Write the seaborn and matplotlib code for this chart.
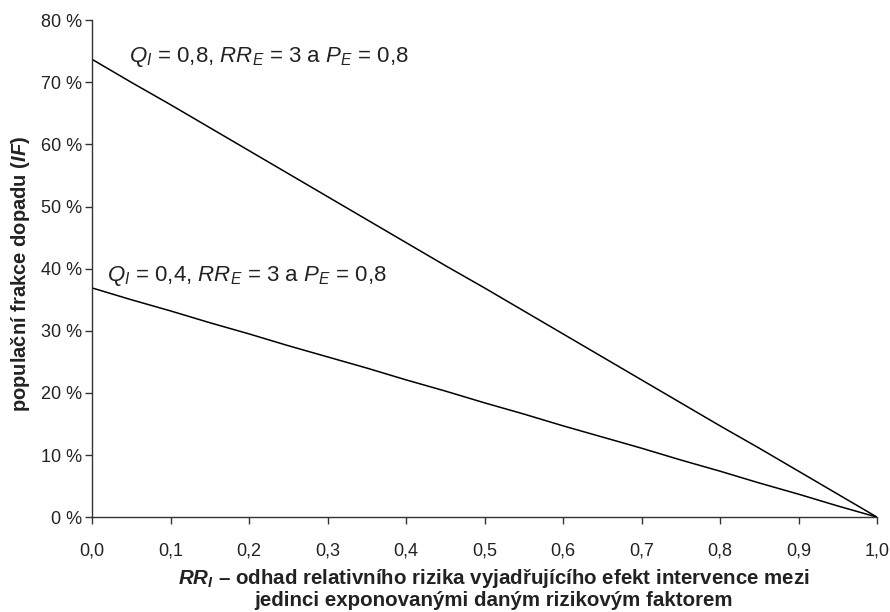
import matplotlib
matplotlib.use("Agg")
import matplotlib.pyplot as plt
import seaborn as sns
import pandas as pd
from matplotlib.ticker import FuncFormatter, MultipleLocator

# Data
rr_i = [0.00, 0.05, 0.10, 0.15, 0.20, 0.25, 0.30, 0.35, 0.40, 0.45, 0.50,
        0.55, 0.60, 0.65, 0.70, 0.75, 0.80, 0.85, 0.90, 0.95, 1.00]
if_q08 = [73.7, 70.0, 66.4, 62.7, 59.0, 55.3, 51.6, 47.9, 44.2, 40.5, 36.9,
          33.2, 29.5, 25.8, 22.1, 18.4, 14.7, 11.1, 7.4, 3.7, 0.0]
if_q04 = [36.9, 35.0, 33.2, 31.3, 29.5, 27.6, 25.8, 24.0, 22.1, 20.3, 18.4,
          16.6, 14.7, 12.9, 11.1, 9.2, 7.4, 5.5, 3.7, 1.8, 0.0]
series_names = ["Q08", "Q04"]
label_q08 = r"$Q_I$ = 0,8, $RR_E$ = 3 a $P_E$ = 0,8"
label_q04 = r"$Q_I$ = 0,4, $RR_E$ = 3 a $P_E$ = 0,8"
x_label = r"$\mathbfit{RR_I}$ – odhad relativního rizika vyjadřujícího efekt intervence mezi" + "\njedinci exponovanými daným rizikovým faktorem"
y_label = r"populační frakce dopadu ($\mathbfit{IF}$)"

df = pd.DataFrame({
    "x": rr_i * 2,
    "y": if_q08 + if_q04,
    "s": [series_names[0]] * len(rr_i) + [series_names[1]] * len(rr_i),
})

sns.set_style("white")
plt.rcParams["font.family"] = ["Liberation Sans", "DejaVu Sans"]
plt.rcParams["mathtext.fontset"] = "custom"
plt.rcParams["mathtext.rm"] = "Liberation Sans"
plt.rcParams["mathtext.it"] = "Liberation Sans:italic"
plt.rcParams["mathtext.bf"] = "Liberation Sans:bold"
plt.rcParams["mathtext.bfit"] = "Liberation Sans:bold:italic"

fig = plt.figure(figsize=(8.9, 6.12), dpi=100)
ax = fig.add_axes([0.1034, 0.155, 0.882, 0.812])

sns.lineplot(data=df, x="x", y="y", hue="s", palette=["black", "black"],
             linewidth=1.1, legend=False, ax=ax)

ax.set_xlim(0, 1)
ax.set_ylim(0, 80)
ax.xaxis.set_major_locator(MultipleLocator(0.1))
ax.yaxis.set_major_locator(MultipleLocator(10))
ax.xaxis.set_major_formatter(FuncFormatter(lambda v, p: f"{v:.1f}".replace(".", ",")))
ax.yaxis.set_major_formatter(FuncFormatter(lambda v, p: f"{v:.0f} %"))

for s in ["top", "right"]:
    ax.spines[s].set_visible(False)
for s in ["left", "bottom"]:
    ax.spines[s].set_color("#333333")
    ax.spines[s].set_linewidth(1.0)
ax.tick_params(axis="y", direction="out", length=5, width=1.0,
               color="#333333", labelsize=13, labelcolor="#222222",
               left=True, pad=2)
ax.tick_params(axis="x", direction="out", length=5, width=1.0,
               color="#333333", labelsize=13, labelcolor="#222222",
               bottom=True, pad=13)

ax.set_xlabel(x_label, fontsize=14.8, fontweight="bold", color="#222222",
              linespacing=1.1)
ax.xaxis.set_label_coords(0.512, -0.1)
ax.set_ylabel(y_label, fontsize=14.5, fontweight="bold", color="#222222")
ax.yaxis.set_label_coords(-0.0765, 0.489)

ax.text(0.047, 74.1, label_q08, fontsize=16, va="center", ha="left", color="#222222")
ax.text(0.019, 38.8, label_q04, fontsize=16, va="center", ha="left", color="#222222")

fig.savefig("out.png", dpi=100)
